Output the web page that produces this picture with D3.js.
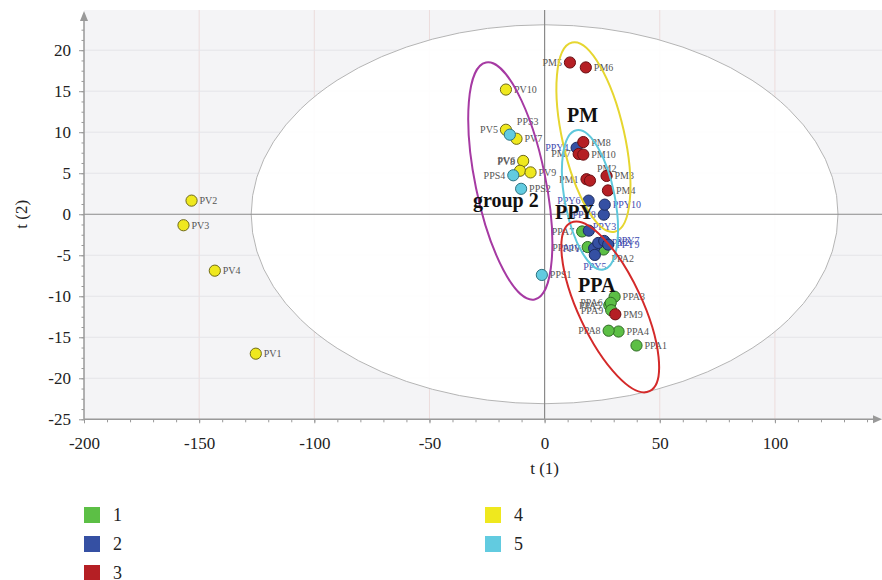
<!DOCTYPE html>
<html>
<head>
<meta charset="utf-8">
<script src="https://cdn.jsdelivr.net/npm/d3@7"></script>
<style>
  body { margin: 0; background: #fff; }
  svg text { font-family: 'Liberation Serif', 'DejaVu Serif', serif; }
</style>
</head>
<body>
<div id="chart"></div>
<script>
// score values t(1), t(2) per sample
const groups = ['1', '2', '3', '4', '5'];
const colors = ['#5cbf45', '#3550a3', '#b51f24', '#efe81e', '#62cbe0'];
const strokes = ['#2f6a25', '#1d2c60', '#6a1014', '#6f6a18', '#2f7482'];

const ppaNames = ['PPA1', 'PPA2', 'PPA3', 'PPA4', 'PPA5', 'PPA6', 'PPA7', 'PPA8', 'PPA9', 'PPA10'];
const ppaT1 = [39.9, 25.6, 30.4, 32.1, 28.1, 28.7, 16.3, 27.8, 28.9, 18.7];
const ppaT2 = [-16.0, -4.3, -10.05, -14.3, -11.1, -10.8, -2.1, -14.2, -11.7, -4.0];

const ppyNames = ['PPY1', 'PPY2', 'PPY3', 'PPY4', 'PPY5', 'PPY6', 'PPY7', 'PPY8', 'PPY9', 'PPY10'];
const ppyT1 = [21.5, 23.3, 19.2, 13.9, 21.8, 19.1, 25.9, 25.7, 27.6, 26.1];
const ppyT2 = [-4.15, -3.5, -2.0, 8.1, -4.96, 1.66, -3.26, -0.05, -3.7, 1.17];

const pmNames = ['PM1', 'PM2', 'PM3', 'PM4', 'PM5', 'PM6', 'PM7', 'PM8', 'PM9', 'PM10'];
const pmT1 = [18.2, 19.7, 26.9, 27.5, 11.0, 17.9, 14.8, 16.8, 30.7, 16.8];
const pmT2 = [4.27, 4.1, 4.67, 2.9, 18.5, 17.9, 7.35, 8.8, -12.2, 7.27];

const pvNames = ['PV1', 'PV2', 'PV3', 'PV4', 'PV5', 'PV6', 'PV7', 'PV8', 'PV9', 'PV10'];
const pvT1 = [-125.4, -153.3, -156.8, -143.2, -16.8, -9.3, -12.2, -10.7, -6.1, -16.8];
const pvT2 = [-17.0, 1.66, -1.34, -6.88, 10.3, 6.5, 9.2, 5.3, 5.1, 15.2];

const ppsNames = ['PPS1', 'PPS2', 'PPS3', 'PPS4'];
const ppsT1 = [-1.2, -10.2, -15.1, -13.6];
const ppsT2 = [-7.4, 3.1, 9.7, 4.75];

const xTicks = [-200, -150, -100, -50, 0, 50, 100];
const yTicks = [-25, -20, -15, -10, -5, 0, 5, 10, 15, 20];

// group annotations: label text and where it sits (t1, t2)
const groupLabels = ['PM', 'group 2', 'PPY', 'PPA'];
const groupLabelT1 = [9.7, -31.1, 4.5, 14.5];
const groupLabelT2 = [11.3, 0.9, -0.6, -9.5];

// label placement tweaks (style only)
const leftLabels = ['PV5', 'PV6', 'PPS4', 'PM5', 'PM7', 'PM1', 'PPY4', 'PPY6', 'PPY8', 'PPY1',
  'PPA7', 'PPA10', 'PPA5', 'PPA6', 'PPA9', 'PPA8'];
const customLabels = {
  PPS3: [7, -10, 'start'], PM2: [7, -9, 'start'], PPY5: [0, 15, 'middle'],
  PPA2: [8, 12, 'start'], PPY3: [4, -1, 'start'], PPY7: [12, 3, 'start'],
  PV8: [-5, -6, 'end']
};

const width = 882, height = 580;
const pLeft = 84, pRight = 882, pTop = 10, pBottom = 419.3;

const x = d3.scaleLinear().domain([-200, 146.5]).range([pLeft, pRight]);
const y = d3.scaleLinear().domain([-25, 24.9]).range([pBottom, pTop]);

function build(g, names, t1, t2) {
  return names.map((n, i) => ({ name: n, t1: t1[i], t2: t2[i], g: g }));
}
const points = [].concat(
  build(0, ppaNames, ppaT1, ppaT2),
  build(1, ppyNames, ppyT1, ppyT2),
  build(2, pmNames, pmT1, pmT2),
  build(3, pvNames, pvT1, pvT2),
  build(4, ppsNames, ppsT1, ppsT2)
);

const svg = d3.select('#chart').append('svg')
  .attr('width', width)
  .attr('height', height);

svg.append('defs').append('clipPath').attr('id', 'plot')
  .append('rect')
  .attr('x', pLeft).attr('y', pTop)
  .attr('width', pRight - pLeft).attr('height', pBottom - pTop);

/* background + hotelling ellipse */
svg.append('rect')
  .attr('x', pLeft).attr('y', pTop)
  .attr('width', pRight - pLeft).attr('height', pBottom - pTop)
  .attr('fill', '#f4f4f6');

const plot = svg.append('g').attr('clip-path', 'url(#plot)');

// grid
plot.selectAll('.vgrid')
  .data(xTicks.filter(d => d !== -200 && d !== 0)).enter()
  .append('line')
  .attr('x1', d => x(d)).attr('x2', d => x(d))
  .attr('y1', pTop).attr('y2', pBottom)
  .attr('stroke', '#ecdcdc');
plot.selectAll('.hgrid')
  .data(yTicks.filter(d => d !== 0)).enter()
  .append('line')
  .attr('x1', pLeft).attr('x2', pRight)
  .attr('y1', d => y(d)).attr('y2', d => y(d))
  .attr('stroke', '#e4e4e8');

plot.append('ellipse')
  .attr('cx', x(0)).attr('cy', y(0))
  .attr('rx', x(127.4) - x(0))
  .attr('ry', y(0) - y(23.1))
  .attr('fill', '#fff')
  .attr('fill-opacity', 0.92)
  .attr('stroke', '#b4b4b4')
  .attr('stroke-width', 1);

// zero lines
plot.append('line')
  .attr('x1', x(0)).attr('x2', x(0)).attr('y1', pTop).attr('y2', pBottom)
  .attr('stroke', '#8a8a8a').attr('stroke-width', 1.2);
plot.append('line')
  .attr('x1', pLeft).attr('x2', pRight).attr('y1', y(0)).attr('y2', y(0))
  .attr('stroke', '#8a8a8a').attr('stroke-width', 1.2);

/* axes */
const plain = d => String(d);
const xAxis = svg.append('g')
  .attr('transform', `translate(0, ${pBottom})`)
  .call(d3.axisBottom(x).tickValues(xTicks).tickSize(4).tickPadding(14).tickFormat(plain));
const xMinor = svg.append('g')
  .attr('transform', `translate(0, ${pBottom})`)
  .call(d3.axisBottom(x).tickValues(d3.range(-200, 141, 10)).tickSize(3).tickFormat(''));
const yAxis = svg.append('g')
  .attr('transform', `translate(${pLeft}, 0)`)
  .call(d3.axisLeft(y).tickValues(yTicks).tickSize(5).tickPadding(8).tickFormat(plain));
const yMinor = svg.append('g')
  .attr('transform', `translate(${pLeft}, 0)`)
  .call(d3.axisLeft(y).tickValues(d3.range(-25, 24, 1.25)).tickSize(2.5).tickFormat(''));

[xAxis, xMinor, yAxis, yMinor].forEach(a => {
  a.select('.domain').remove();
  a.selectAll('line').attr('stroke', '#999');
});
[xAxis, yAxis].forEach(a => {
  a.selectAll('text')
    .attr('fill', '#222')
    .style('font-size', '17px')
    .style('font-family', "'Liberation Serif', serif");
});

svg.append('line')
  .attr('x1', pLeft).attr('x2', pRight - 6).attr('y1', pBottom).attr('y2', pBottom)
  .attr('stroke', '#999').attr('stroke-width', 1.5);
svg.append('path')
  .attr('d', `M${pRight},${pBottom} l-9,-4 l0,8 z`)
  .attr('fill', '#999');
svg.append('line')
  .attr('x1', pLeft).attr('x2', pLeft).attr('y1', pBottom).attr('y2', pTop + 6)
  .attr('stroke', '#999').attr('stroke-width', 1.5);
svg.append('path')
  .attr('d', `M${pLeft},${pTop + 1} l-4,10 l8,0 z`)
  .attr('fill', '#999');

svg.append('text')
  .attr('x', x(0)).attr('y', 474)
  .attr('text-anchor', 'middle')
  .style('font-size', '17px')
  .attr('fill', '#222')
  .text('t (1)');
svg.append('text')
  .attr('transform', `translate(27, ${y(0)}) rotate(-90)`)
  .attr('text-anchor', 'middle')
  .style('font-size', '17px')
  .attr('fill', '#222')
  .text('t (2)');

/* group ellipses: centre in t-units, radii in px, tilt in degrees */
const groupEll = [
  { c: '#a63aa3', cx: -14.9, cy: 4.06, rx: 35, ry: 121, rot: -11.6 },
  { c: '#e6d630', cx: 21.2, cy: 9.4, rx: 31, ry: 97, rot: -12.7 },
  { c: '#5fc8dc', cx: 19.7, cy: 1.75, rx: 25, ry: 71, rot: -11 },
  { c: '#d42a2a', cx: 28.5, cy: -11.3, rx: 32, ry: 93, rot: -25 }
];

/* point labels */
const labels = plot.append('g');
labels.selectAll('text')
  .data(points).enter()
  .append('text')
  .attr('x', d => {
    const c = customLabels[d.name];
    if (c) return x(d.t1) + c[0];
    return x(d.t1) + (leftLabels.includes(d.name) ? -8 : 8);
  })
  .attr('y', d => {
    const c = customLabels[d.name];
    return y(d.t2) + (c ? c[1] : 3.5);
  })
  .attr('text-anchor', d => {
    const c = customLabels[d.name];
    if (c) return c[2];
    return leftLabels.includes(d.name) ? 'end' : 'start';
  })
  .style('font-size', '10px')
  .attr('fill', d => d.g === 1 ? '#3f4cb0' : '#555')
  .text(d => d.name);

/* points */
plot.append('g').selectAll('circle')
  .data(points).enter()
  .append('circle')
  .attr('cx', d => x(d.t1))
  .attr('cy', d => y(d.t2))
  .attr('r', 5.6)
  .attr('fill', d => colors[d.g])
  .attr('stroke', d => strokes[d.g])
  .attr('stroke-width', 1);

plot.append('g').selectAll('ellipse')
  .data(groupEll).enter()
  .append('ellipse')
  .attr('transform', d => `translate(${x(d.cx)}, ${y(d.cy)}) rotate(${d.rot})`)
  .attr('rx', d => d.rx)
  .attr('ry', d => d.ry)
  .attr('fill', 'none')
  .attr('stroke', d => d.c)
  .attr('stroke-width', 2);

plot.append('g').selectAll('text')
  .data(groupLabels).enter()
  .append('text')
  .attr('x', (d, i) => x(groupLabelT1[i]))
  .attr('y', (d, i) => y(groupLabelT2[i]))
  .style('font-size', '20px')
  .style('font-weight', 'bold')
  .attr('fill', '#111')
  .text(d => d);

/* legend */
const legend = svg.append('g');
const item = legend.selectAll('g')
  .data(groups).enter()
  .append('g')
  .attr('transform', (d, i) => `translate(${i < 3 ? 84 : 485}, ${507 + (i % 3) * 29})`);
item.append('rect')
  .attr('width', 16).attr('height', 16)
  .attr('fill', (d, i) => colors[i]);
item.append('text')
  .attr('x', 29).attr('y', 14)
  .style('font-size', '18px')
  .attr('fill', '#222')
  .text(d => d);
</script>
</body>
</html>
